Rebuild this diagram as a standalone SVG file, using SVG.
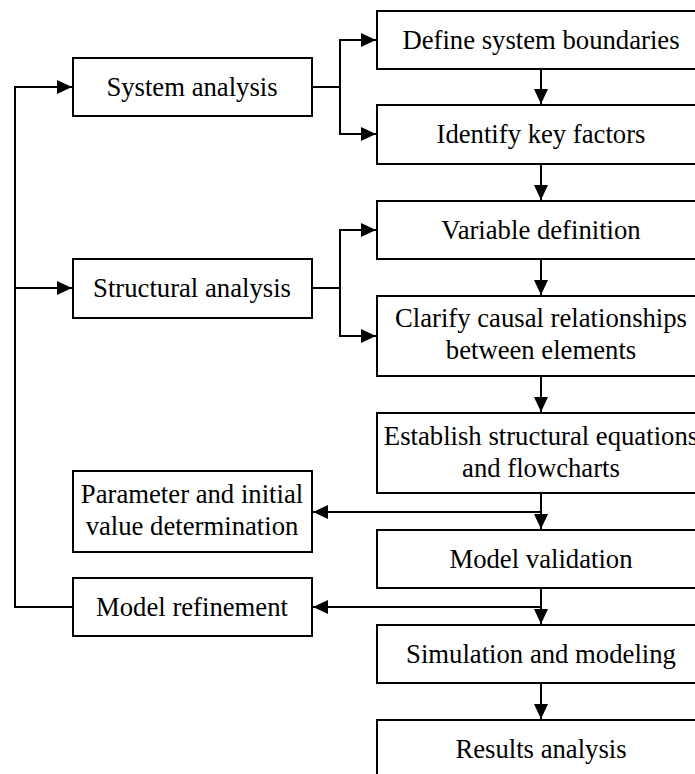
<svg xmlns="http://www.w3.org/2000/svg" width="695" height="774" viewBox="0 0 695 774">
<style>
.box{fill:#fff;stroke:#000;stroke-width:2}
.t{font-family:'Liberation Serif','Times New Roman',serif;font-size:26.7px;fill:#000;text-anchor:middle}
.c{fill:none;stroke:#000;stroke-width:2}
</style>
<defs>
<marker id="ah" markerUnits="userSpaceOnUse" markerWidth="16" markerHeight="16" viewBox="0 0 16 16" refX="15" refY="8" orient="auto">
<path d="M0,1 L15,8 L0,15 Z" fill="#000"/>
</marker>
</defs>
<rect width="695" height="774" fill="#fff"/>
<g id="connectors">
<path class="c" d="M73,607 H15 V87 H72" marker-end="url(#ah)"/>
<path class="c" d="M15,288 H72" marker-end="url(#ah)"/>
<path class="c" d="M312,87 H340 V40 H376" marker-end="url(#ah)"/>
<path class="c" d="M340,87 V134 H376" marker-end="url(#ah)"/>
<path class="c" d="M312,288 H340 V230 H376" marker-end="url(#ah)"/>
<path class="c" d="M340,288 V336 H376" marker-end="url(#ah)"/>
<path class="c" d="M541,69 V104" marker-end="url(#ah)"/>
<path class="c" d="M541,164 V200" marker-end="url(#ah)"/>
<path class="c" d="M541,259 V295" marker-end="url(#ah)"/>
<path class="c" d="M541,376 V412" marker-end="url(#ah)"/>
<path class="c" d="M541,493 V529" marker-end="url(#ah)"/>
<path class="c" d="M541,588 V624" marker-end="url(#ah)"/>
<path class="c" d="M541,683 V719" marker-end="url(#ah)"/>
<path class="c" d="M541,512 H313" marker-end="url(#ah)"/>
<path class="c" d="M541,607 H313" marker-end="url(#ah)"/>
</g>
<g id="system-analysis"><rect class="box" x="73" y="58" width="239" height="58"/><text class="t" x="192" y="96">System analysis</text></g>
<g id="structural-analysis"><rect class="box" x="73" y="259" width="239" height="59"/><text class="t" x="192" y="297">Structural analysis</text></g>
<g id="parameter"><rect class="box" x="73" y="471" width="239" height="81"/><text class="t" x="192" y="503">Parameter and initial</text><text class="t" x="192" y="535">value determination</text></g>
<g id="model-refinement"><rect class="box" x="73" y="578" width="239" height="58"/><text class="t" x="192" y="616">Model refinement</text></g>
<g id="define-boundaries"><rect class="box" x="377" y="11" width="330" height="58"/><text class="t" x="541" y="49">Define system boundaries</text></g>
<g id="identify-factors"><rect class="box" x="377" y="105" width="330" height="59"/><text class="t" x="541" y="143">Identify key factors</text></g>
<g id="variable-definition"><rect class="box" x="377" y="201" width="330" height="58"/><text class="t" x="541" y="239">Variable definition</text></g>
<g id="clarify"><rect class="box" x="377" y="296" width="330" height="80"/><text class="t" x="541" y="327">Clarify causal relationships</text><text class="t" x="541" y="359">between elements</text></g>
<g id="establish"><rect class="box" x="377" y="413" width="330" height="80"/><text class="t" x="541" y="445">Establish structural equations</text><text class="t" x="541" y="477">and flowcharts</text></g>
<g id="model-validation"><rect class="box" x="377" y="530" width="330" height="58"/><text class="t" x="541" y="568">Model validation</text></g>
<g id="simulation"><rect class="box" x="377" y="625" width="330" height="58"/><text class="t" x="541" y="663">Simulation and modeling</text></g>
<g id="results"><rect class="box" x="377" y="720" width="330" height="80"/><text class="t" x="541" y="758">Results analysis</text></g>
</svg>
